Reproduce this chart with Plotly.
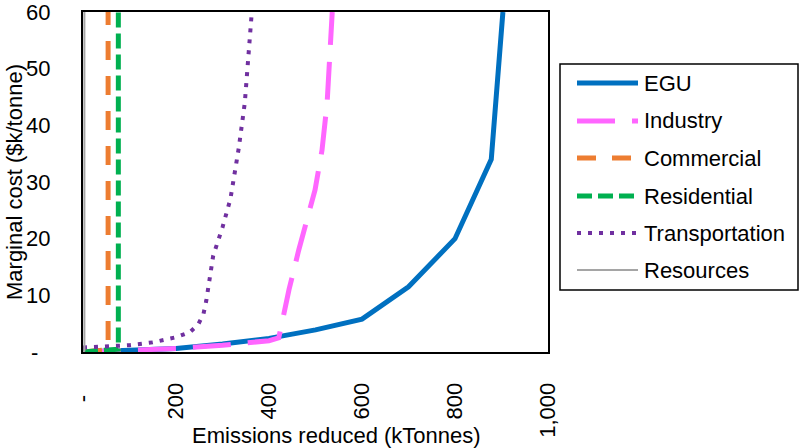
import plotly.graph_objects as go

# ---- data ----
egu_x = [0, 100, 200, 300, 400, 500, 600, 700, 800, 878, 903]
egu_y = [0, 0.2, 0.6, 1.4, 2.4, 3.9, 5.8, 11.5, 20, 34, 60]

ind_x = [0, 100, 200, 300, 400, 421, 443, 464, 499, 514, 525, 536]
ind_y = [0, 0.2, 0.6, 1.2, 2.0, 2.5, 11, 18, 28.6, 35.6, 44, 60]

com_x = [0, 30, 54, 54]
com_y = [0, 0.2, 0.4, 60]

res_x = [0, 40, 76, 76]
res_y = [0, 0.2, 0.5, 60]

tra_x = [0, 50, 100, 150, 200, 230, 248, 259, 265, 280, 300, 317, 335, 348, 363]
tra_y = [0.8, 1.0, 1.2, 1.7, 2.6, 3.5, 4.9, 6.7, 9, 17, 22, 27, 36, 44, 60]

rsc_x = [0, 3, 3]
rsc_y = [0, 0.2, 60]

series = ["EGU", "Industry", "Commercial", "Residential", "Transportation", "Resources"]
colors = ["#0070C0", "#FF66FF", "#ED7D31", "#00B050", "#7030A0", "#A5A5A5"]
widths = [5, 5, 5, 5, 4, 2]
dashes = ["solid", "38px,17px", "19px,16px", "15px,6px", "4px,7px", "solid"]
xs = [egu_x, ind_x, com_x, res_x, tra_x, rsc_x]
ys = [egu_y, ind_y, com_y, res_y, tra_y, rsc_y]

x_ticks = [0, 200, 400, 600, 800, 1000]
x_ticktext = ["-\u00a0\u00a0", "200", "400", "600", "800", "1,000"]
y_ticks = [0, 10, 20, 30, 40, 50, 60]
y_ticktext = ["-\u00a0\u00a0", "10", "20", "30", "40", "50", "60"]

FONT = "Liberation Sans, Arial, sans-serif"

fig = go.Figure()
for name, x, y, c, w, d in zip(series, xs, ys, colors, widths, dashes):
    fig.add_trace(go.Scatter(x=x, y=y, mode="lines", name=name,
                             line=dict(color=c, width=w, dash=d),
                             showlegend=False, hoverinfo="skip"))

# plot area in pixels
L, R, T, B = 83, 548, 12, 352
def px(xp):
    return (xp - L) / (R - L)
def py(yp):
    return (B - yp) / (B - T)

shapes = []
annotations = []
# legend box
shapes.append(dict(type="rect", xref="paper", yref="paper",
                   x0=px(560), x1=px(798), y0=py(64), y1=py(290),
                   line=dict(color="black", width=1.5), fillcolor="white"))
rows = [83, 121, 158, 196, 233, 270]
for name, c, w, d, ry in zip(series, colors, widths, dashes, rows):
    shapes.append(dict(type="line", xref="paper", yref="paper",
                       x0=px(577), x1=px(638), y0=py(ry), y1=py(ry),
                       line=dict(color=c, width=w, dash=d)))
    annotations.append(dict(xref="paper", yref="paper", x=px(642), y=py(ry),
                            text=name, showarrow=False, xanchor="left", yanchor="middle",
                            font=dict(family=FONT, size=22, color="black")))

annotations.append(dict(xref="paper", yref="paper", x=px(336), y=py(435),
                        text="Emissions reduced (kTonnes)", showarrow=False,
                        xanchor="center", yanchor="middle",
                        font=dict(family=FONT, size=22, color="black")))
annotations.append(dict(xref="paper", yref="paper", x=px(14), y=py(182),
                        text="Marginal cost ($k/tonne)", showarrow=False, textangle=-90,
                        xanchor="center", yanchor="middle",
                        font=dict(family=FONT, size=22, color="black")))

fig.update_layout(
    width=800, height=448,
    margin=dict(l=L, r=800 - R, t=T, b=448 - B, autoexpand=False),
    paper_bgcolor="white", plot_bgcolor="white",
    font=dict(family=FONT, size=22, color="black"),
    shapes=shapes, annotations=annotations,
    showlegend=False,
    xaxis=dict(range=[0, 1000], tickvals=x_ticks, ticktext=x_ticktext,
               tickangle=-90, showgrid=False, zeroline=False, automargin=False,
               showline=True, mirror=True, linecolor="black", linewidth=2,
               ticks="", ticklabelstandoff=20, ticklabeloverflow="allow",
               tickfont=dict(family=FONT, size=22, color="black")),
    yaxis=dict(range=[0, 60], tickvals=y_ticks, ticktext=y_ticktext,
               showgrid=False, zeroline=False, automargin=False,
               showline=True, mirror=True, linecolor="black", linewidth=2,
               ticks="", ticklabelstandoff=26, ticklabeloverflow="allow",
               tickfont=dict(family=FONT, size=22, color="black")),
)

fig.write_html("out.html", config={"displayModeBar": False},
               post_script="document.body.style.margin='0';document.body.style.overflow='hidden';")
